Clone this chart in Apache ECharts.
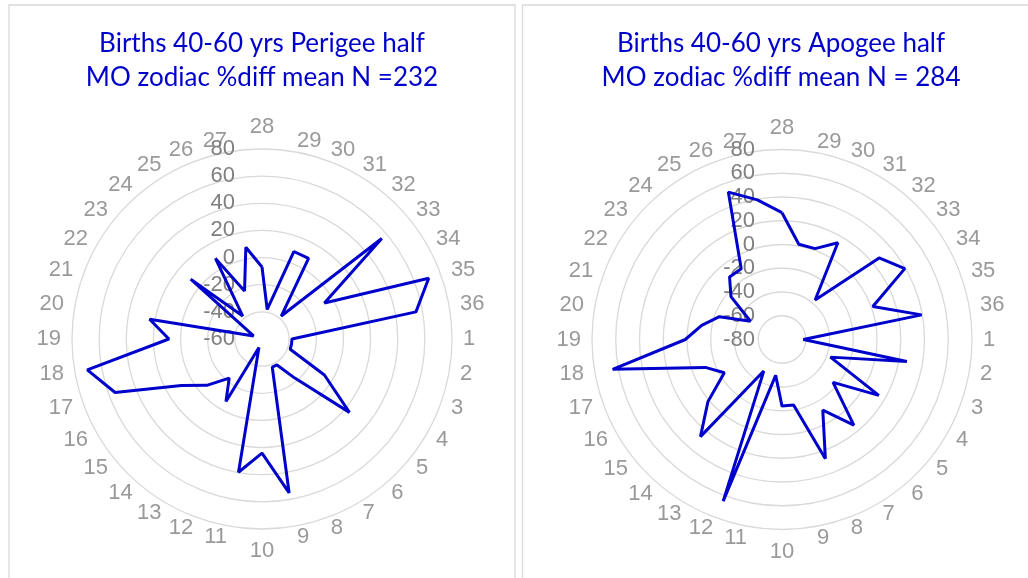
<!DOCTYPE html>
<html>
<head>
<meta charset="utf-8">
<script src="https://cdn.jsdelivr.net/npm/echarts@6/dist/echarts.min.js"></script>
<style>
html, body { margin: 0; padding: 0; background: #fff; }
#chart { width: 1028px; height: 578px; }
</style>
</head>
<body>
<div id="chart"></div>
<script>
// zodiac sectors 1..36, values below follow the same order
var categories = ['1','2','3','4','5','6','7','8','9','10','11','12','13','14','15','16','17','18',
                  '19','20','21','22','23','24','25','26','27','28','29','30','31','32','33','34','35','36'];
var topCategory = '28';   // sector drawn at 12 o'clock

var perigeeValues = [-37.9, -37.9, -37.9, -6.9, 24.1, -22.4, -37.9, -37.9, 55.2, 24.1, 39.7, -53.4,
                     -6.9, -22.4, -6.9, 8.6, 55.2, 70.7, 8.6, 24.1, -53.4, -53.4, 8.6, -37.9,
                     8.6, -22.4, 8.6, -6.9, -37.9, 8.6, 8.6, -37.9, 55.2, -6.9, 70.7, 55.2];
var apogeeValues = [-62.0, 26.8, -36.6, 14.1, -23.9, 14.1, -11.3, 26.8, -23.9, -23.9, -49.3, 64.8,
                    -49.3, 26.8, 1.4, -23.9, -11.3, 64.8, 1.4, -11.3, -23.9, -49.3, -23.9, -11.3,
                    -11.3, 52.1, 39.4, 26.8, 1.4, 1.4, 14.1, -36.6, 26.8, 39.4, 1.4, 39.4];

var perigeeRange = [-60, 80];
var apogeeRange = [-80, 80];

var startIdx = categories.indexOf(topCategory);
var n = categories.length;

// closed ring of [radius, angle-step] starting at the top sector
function ring(values) {
    var pts = [];
    for (var k = 0; k <= n; k++) {
        pts.push([values[(startIdx + k) % n], k]);
    }
    return pts;
}

// sector names sit just outside the outer ring, Excel style:
// right half left-aligned, left half right-aligned, top/bottom centred
var labelGap = 11;
function sectorLabels(rMax) {
    var out = [];
    for (var k = 0; k < n; k++) {
        var deg = k * 360 / n;
        var rad = deg * Math.PI / 180;
        var pos = deg === 0 ? 'top' : deg === 180 ? 'bottom' : deg < 180 ? 'right' : 'left';
        out.push({
            value: [rMax, k],
            name: categories[(startIdx + k) % n],
            label: {
                position: pos,
                distance: 0,
                offset: [labelGap * Math.sin(rad), -labelGap * Math.cos(rad)]
            }
        });
    }
    return out;
}

var grey = '#7f7f7f';
var gridGrey = '#d9d9d9';
var blue = '#0000cc';

function angleAxis(idx) {
    return {
        polarIndex: idx,
        type: 'value',
        min: 0,
        max: n,
        interval: 1,
        startAngle: 90,
        clockwise: true,
        axisLine: {show: false},
        axisTick: {show: false},
        splitLine: {show: false},
        axisLabel: {show: false}
    };
}

function radiusAxis(idx, range) {
    return {
        polarIndex: idx,
        type: 'value',
        min: range[0],
        max: range[1],
        interval: 20,
        axisLine: {show: false},
        axisTick: {show: false},
        splitLine: {show: true, lineStyle: {color: gridGrey, width: 1.3}},
        axisLabel: {
            color: grey,
            fontSize: 22,
            fontFamily: 'Liberation Sans',
            margin: 27
        }
    };
}

function labelSeries(idx, range) {
    return {
        type: 'scatter',
        coordinateSystem: 'polar',
        polarIndex: idx,
        symbolSize: 0,
        silent: true,
        z: 1,
        label: {
            show: true,
            color: grey,
            fontSize: 22,
            fontFamily: 'Liberation Sans',
            formatter: '{b}'
        },
        data: sectorLabels(range[1])
    };
}

function titleStyle() {
    return {color: blue, fontSize: 26, fontWeight: 'normal', fontFamily: 'Lato', lineHeight: 33.5};
}

var myChart = echarts.init(document.getElementById('chart'));
var option = {
    animation: false,
    backgroundColor: '#fff',
    title: [{
        text: 'Births 40-60 yrs Perigee half\nMO zodiac %diff mean N =232',
        left: 257,
        top: 22,
        textAlign: 'center',
        textStyle: titleStyle()
    }, {
        text: 'Births 40-60 yrs Apogee half\nMO zodiac %diff mean N = 284',
        left: 776,
        top: 22,
        textAlign: 'center',
        textStyle: titleStyle()
    }],
    graphic: [{
        type: 'rect',
        shape: {x: 9, y: 5, width: 506, height: 620},
        style: {fill: null, stroke: gridGrey, lineWidth: 1.3},
        silent: true
    }, {
        type: 'rect',
        shape: {x: 522.5, y: 5, width: 620, height: 620},
        style: {fill: null, stroke: gridGrey, lineWidth: 1.3},
        silent: true
    }],
    polar: [
        {center: [262, 339], radius: 190},
        {center: [782, 339.5], radius: 190}
    ],
    angleAxis: [angleAxis(0), angleAxis(1)],
    radiusAxis: [radiusAxis(0, perigeeRange), radiusAxis(1, apogeeRange)],
    series: [{
        name: 'Perigee half',
        type: 'line',
        coordinateSystem: 'polar',
        polarIndex: 0,
        symbol: 'none',
        lineStyle: {color: blue, width: 3},
        data: ring(perigeeValues)
    }, {
        name: 'Apogee half',
        type: 'line',
        coordinateSystem: 'polar',
        polarIndex: 1,
        symbol: 'none',
        lineStyle: {color: blue, width: 3},
        data: ring(apogeeValues)
    },
    labelSeries(0, perigeeRange),
    labelSeries(1, apogeeRange)]
};
myChart.setOption(option);
</script>
</body>
</html>
